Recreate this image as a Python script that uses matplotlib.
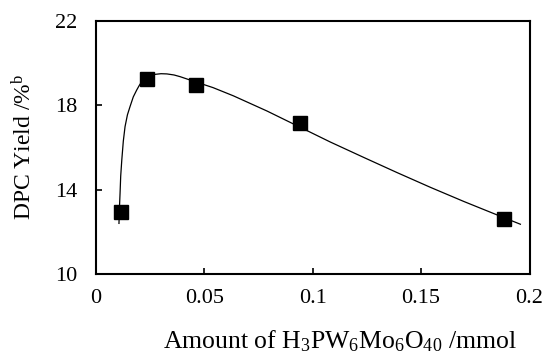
import matplotlib
matplotlib.use("Agg")
import matplotlib.pyplot as plt

plt.rcParams['font.family'] = ['Liberation Serif', 'DejaVu Serif']
plt.rcParams['mathtext.fontset'] = 'custom'
plt.rcParams['mathtext.rm'] = 'Liberation Serif'
plt.rcParams['mathtext.it'] = 'Liberation Serif:italic'

# Measured points
amount = [0.0116, 0.0236, 0.0463, 0.0941, 0.1881]
yield_pct = [12.95, 19.26, 18.95, 17.18, 12.60]

# Trend curve
curve_x = [0.0106, 0.0108, 0.0111, 0.0114, 0.0119, 0.0126, 0.0134, 0.0145,
           0.0157, 0.0172, 0.0188, 0.0200, 0.0211, 0.0236, 0.0273, 0.0300,
           0.0327, 0.0360, 0.0388, 0.0434, 0.0540, 0.0634, 0.0789, 0.0942,
           0.1081, 0.1235, 0.1389, 0.1543, 0.1697, 0.1851, 0.1958]
curve_y = [12.40, 13.10, 13.83, 14.65, 15.41, 16.30, 16.99, 17.55,
           17.94, 18.40, 18.73, 18.95, 19.12, 19.33, 19.47, 19.50,
           19.49, 19.44, 19.36, 19.20, 18.84, 18.45, 17.73, 16.96,
           16.26, 15.53, 14.81, 14.11, 13.44, 12.80, 12.36]

x_ticks = [0, 0.05, 0.1, 0.15, 0.2]
x_tick_labels = ['0', '0.05', '0.1', '0.15', '0.2']
y_ticks = [10, 14, 18, 22]

fig = plt.figure(figsize=(5.44, 3.56), dpi=100)
ax = fig.add_axes([96/544, 1-274/356, 433.5/544, 253/356])

ax.plot(curve_x, curve_y, color='black', lw=0.9, zorder=2,
        solid_joinstyle='round')
ax.plot(amount, yield_pct, linestyle='none', marker='s', markersize=10,
        color='black', zorder=3)

ax.set_xlim(0, 0.2)
ax.set_ylim(10, 22)
ax.set_xticks(x_ticks)
ax.set_xticklabels(x_tick_labels)
ax.set_yticks(y_ticks)
ax.tick_params(direction='in', length=4.5, width=1.2, labelsize=16,
               colors='black')
ax.tick_params(axis='x', pad=11)
ax.tick_params(axis='y', pad=13.5)
for s in ax.spines.values():
    s.set_linewidth(1.5)

fig.text(339.5/544, 1-348/356, 'Amount of H$_3$PW$_6$Mo$_6$O$_{40}$ /mmol',
         ha='center', va='baseline', fontsize=18.5)
fig.text(24/544, 1-146.5/356, 'DPC Yield /%$^{\\mathrm{b}}$', rotation=90,
         ha='center', va='center', fontsize=17)

fig.savefig('out.png', dpi=100)
